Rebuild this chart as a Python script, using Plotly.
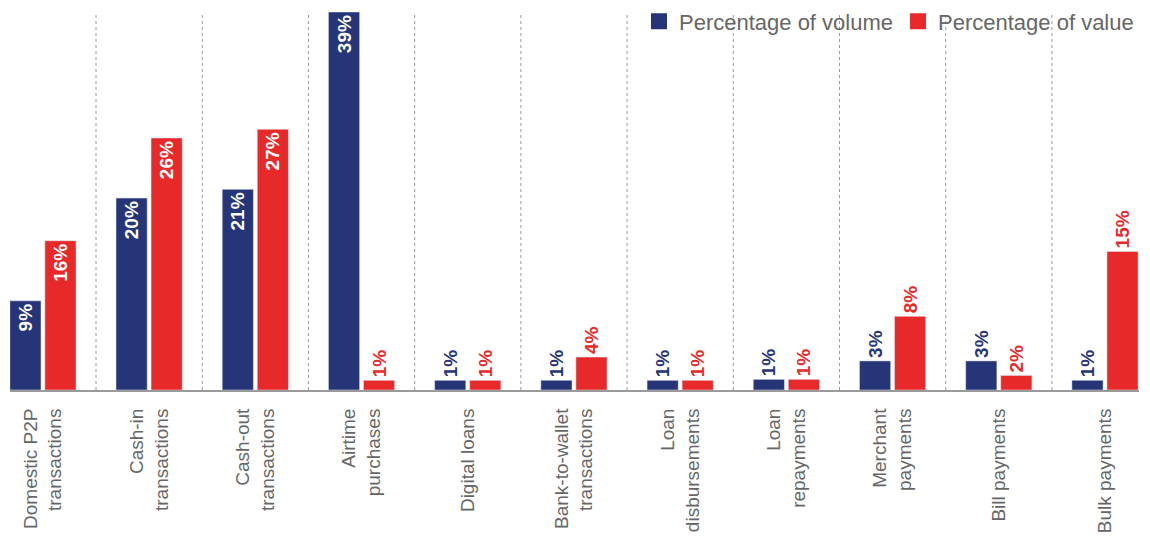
import plotly.graph_objects as go

categories = [
    "Domestic P2P<br>transactions", "Cash-in<br>transactions", "Cash-out<br>transactions",
    "Airtime<br>purchases", "Digital loans", "Bank-to-wallet<br>transactions",
    "Loan<br>disbursements", "Loan<br>repayments", "Merchant<br>payments",
    "Bill payments", "Bulk payments",
]
volume_values = [9.2, 19.8, 20.7, 39.0, 1.0, 1.0, 1.0, 1.1, 3.0, 3.0, 1.0]
value_values = [15.4, 26.0, 26.9, 1.0, 1.0, 3.4, 1.0, 1.1, 7.6, 1.5, 14.3]
volume_labels = ["9%", "20%", "21%", "39%", "1%", "1%", "1%", "1%", "3%", "3%", "1%"]
value_labels = ["16%", "26%", "27%", "1%", "1%", "4%", "1%", "1%", "8%", "2%", "15%"]
volume_pos = ["inside"] * 4 + ["outside"] * 7
value_pos = ["inside"] * 3 + ["outside"] * 8

BLUE = "#263578"
RED = "#E8292A"
GREY = "#666666"
FONT = "Liberation Sans, Arial, sans-serif"

x = list(range(len(categories)))

fig = go.Figure()
fig.add_trace(go.Bar(
    x=x, y=volume_values, name="Percentage of volume", marker_color=BLUE,
    text=volume_labels, textposition=volume_pos, textangle=-90,
    insidetextanchor="end", constraintext="none", cliponaxis=False,
    insidetextfont=dict(color="white", size=19, family=FONT, weight="bold"),
    outsidetextfont=dict(color=BLUE, size=19, family=FONT, weight="bold"),
    showlegend=False, hoverinfo="skip",
))
fig.add_trace(go.Bar(
    x=x, y=value_values, name="Percentage of value", marker_color=RED,
    text=value_labels, textposition=value_pos, textangle=-90,
    insidetextanchor="end", constraintext="none", cliponaxis=False,
    insidetextfont=dict(color="white", size=19, family=FONT, weight="bold"),
    outsidetextfont=dict(color=RED, size=19, family=FONT, weight="bold"),
    showlegend=False, hoverinfo="skip",
))
# legend entries with larger square swatches
for name, col in [("Percentage of volume", BLUE), ("Percentage of value", RED)]:
    fig.add_trace(go.Scatter(
        x=[None], y=[None], mode="markers", name=name,
        marker=dict(symbol="square", size=16, color=col),
    ))

shapes = []
for i in range(len(categories) - 1):
    shapes.append(dict(
        type="line", xref="x", yref="paper", x0=i + 0.5, x1=i + 0.5, y0=0, y1=1,
        line=dict(color="#9a9a9a", width=1, dash="dot"), layer="below",
    ))

# page body has an 8px margin, so the figure is sized to fit the window
fig.update_layout(
    width=1142, height=535,
    margin=dict(l=2, r=11, t=4, b=153, autoexpand=False),
    paper_bgcolor="white", plot_bgcolor="white",
    barmode="group", bargap=0.34, bargroupgap=0.11,
    shapes=shapes,
    font=dict(family=FONT, color=GREY),
    legend=dict(
        orientation="h", x=1.0, xanchor="right",
        yref="container", y=0.975, yanchor="middle",
        font=dict(size=22, color=GREY, family=FONT),
        bgcolor="rgba(255,255,255,0)", itemwidth=30, tracegroupgap=0,
    ),
    xaxis=dict(
        range=[-0.31, 10.32], tickmode="array", tickvals=x, ticktext=categories,
        tickangle=-90, tickfont=dict(size=19, color=GREY, family=FONT),
        showline=True, linecolor="#9a9a9a", linewidth=2, showgrid=False,
        ticks="", ticklabelstandoff=9, zeroline=False,
    ),
    yaxis=dict(range=[0, 39], visible=False, showgrid=False, zeroline=False),
)

fig.write_html("out.html")
